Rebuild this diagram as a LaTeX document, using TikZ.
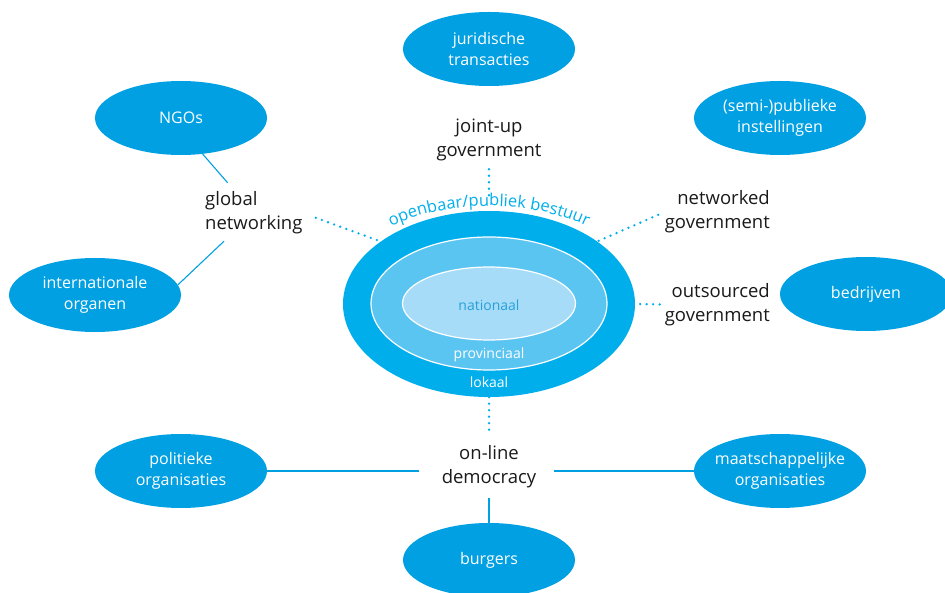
\documentclass[tikz,border=0pt]{standalone}
\usepackage{fontspec}
\setmainfont{Open Sans}
\usetikzlibrary{shapes.geometric,decorations.text,calc}
\definecolor{nodeblue}{RGB}{0,160,226}
\definecolor{lokblue}{RGB}{0,174,236}
\definecolor{provblue}{RGB}{91,197,242}
\definecolor{natblue}{RGB}{166,220,248}
\definecolor{nattext}{RGB}{40,160,218}
\definecolor{labelblack}{RGB}{26,26,26}
\tikzset{
  wnode/.style={ellipse, fill=nodeblue, text=white, minimum width=172pt, minimum height=74pt,
    inner sep=0pt, align=center, font=\fontsize{16}{21.5}\selectfont},
  lbl/.style={text=labelblack, inner sep=0pt, font=\fontsize{18.5}{24}\selectfont},
  conn/.style={draw=nodeblue, line width=1.1pt},
  dotline/.style={draw=lokblue, line width=2.6pt, line cap=round, dash pattern=on 0pt off 6.5pt},
  ctext/.style={inner sep=0pt, anchor=base, font=\fontsize{14}{14}\selectfont}
}
\begin{document}
\begin{tikzpicture}[x=1pt,y=1pt]
\useasboundingbox (0,0) rectangle (945,592);
% outer nodes
\node[wnode] (jur) at (489,543) {juridische\\transacties};
\node[wnode] (ngo) at (181,474) {NGOs};
\node[wnode] (semi) at (780,474) {(semi-)publieke\\instellingen};
\node[wnode] (intl) at (95,297) {internationale\\organen};
\node[wnode] (bedr) at (866,298) {bedrijven};
\node[wnode] (pol) at (181,121) {politieke\\organisaties};
\node[wnode] (maat) at (780,121) {\makebox[100pt]{maatschappelijke}\\organisaties};
\node[wnode] (burg) at (489,32) {burgers};
% central ellipses
\node[ellipse, fill=lokblue, minimum width=292pt, minimum height=186pt, inner sep=0pt] (lok) at (489,288) {};
\node[ellipse, fill=provblue, draw=white, line width=1.2pt, minimum width=236pt, minimum height=133pt, inner sep=0pt] (prov) at (489,288.5) {};
\node[ellipse, fill=natblue, draw=white, line width=1.2pt, minimum width=173pt, minimum height=73pt, inner sep=0pt] (nat) at (489,288.5) {};
\node[ctext, text=nattext] (natt) at (489,281) {nationaal};
\node[ctext, text=white] (provt) at (489,233) {provinciaal};
\node[ctext, text=white] (lokt) at (489,204) {lokaal};
\path[decorate, decoration={text along path, text align=center, text color=lokblue,
  text={|\fontsize{16.5}{16.5}\selectfont|openbaar/publiek bestuur}}]
  (489,288) ++(150:160 and 98) arc[start angle=150, end angle=30, x radius=160, y radius=98];
% labels
\node[lbl, align=center] (joint) at (489,452) {joint-up\\government};
\node[lbl, align=left, anchor=west] (glob) at (205,379) {global\\networking};
\node[lbl, align=right, anchor=east] (netw) at (770,380) {networked\\government};
\node[lbl, align=right, anchor=east] (outs) at (770,287.5) {outsourced\\government};
\node[lbl, align=center] (online) at (489,125) {on-line\\democracy};
% solid connectors
\draw[conn, shorten <=40pt] (glob.center) -- (ngo.-59);
\draw[conn, shorten <=41pt] (glob.center) -- (intl.7.5);
\draw[conn, shorten >=23pt] (pol.east) -- (pol.east -| online.west);
\draw[conn, shorten >=18pt] (maat.west) -- (maat.west -| online.east);
\draw[conn, shorten <=10pt] (online.south) -- (burg.north);
% dotted connectors
\draw[dotline, shorten <=14pt] (glob.east) -- (lok.150);
\draw[dotline, shorten <=7pt] (netw.west) -- (lok.30);
\draw[dotline, shorten <=5pt] (outs.west) -- (lok.east);
\draw[dotline, shorten <=8pt, shorten >=15pt] (joint.south) -- (lok.north);
\draw[dotline, shorten >=12pt] (lok.south) -- (online.north);
\end{tikzpicture}
\end{document}
